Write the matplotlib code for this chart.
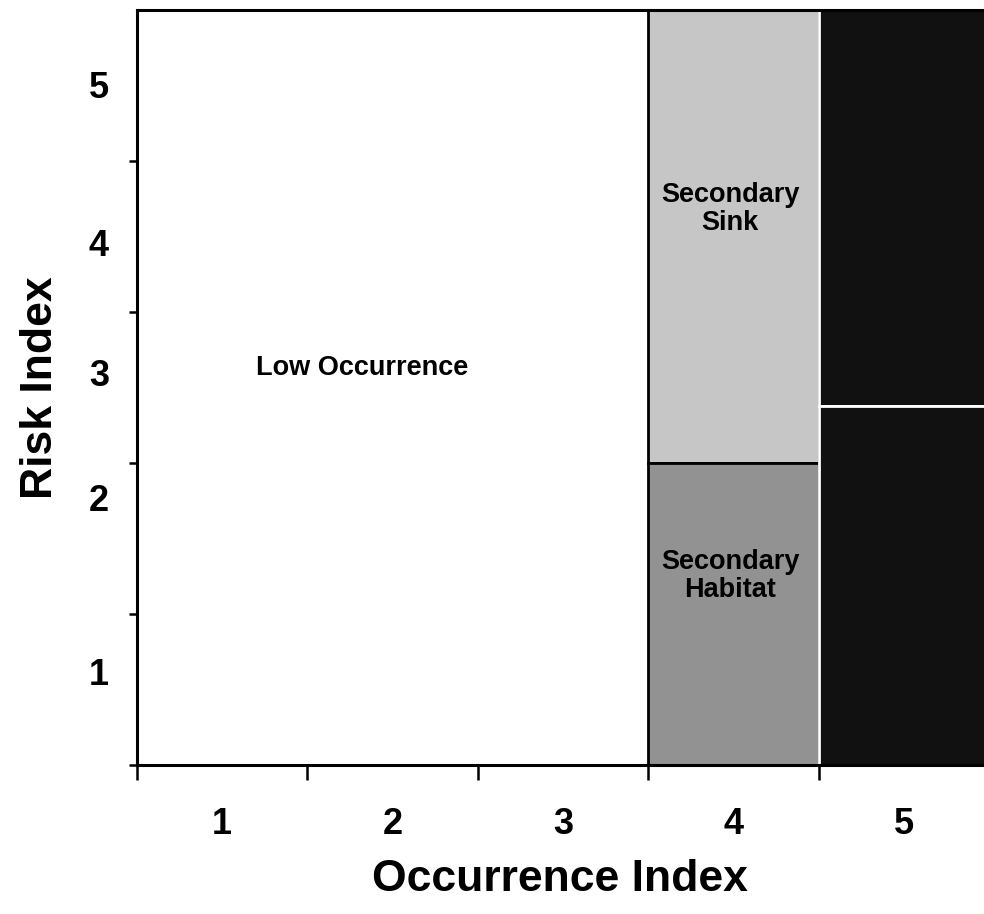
import matplotlib.pyplot as plt
from matplotlib.patches import Rectangle

# Zones of the occurrence / risk grid
zone_names = ["Low Occurrence", "Secondary Sink", "Secondary Habitat", "Primary Sink", "Primary Habitat"]
zone_x0 = [0.5, 3.5, 3.5, 4.5, 4.5]
zone_x1 = [3.5, 4.5, 4.5, 5.5, 5.5]
zone_y0 = [0.5, 2.5, 0.5, 2.88, 0.5]
zone_y1 = [5.5, 5.5, 2.5, 5.5, 2.88]
zone_colors = ["white", "#c6c6c6", "#929292", "#111111", "#111111"]
zone_edges = ["none", "black", "black", "white", "white"]

labels = ["Low Occurrence", "Secondary\nSink", "Secondary\nHabitat"]
label_x = [1.82, 3.98, 3.98]
label_y = [3.13, 4.18, 1.75]

ticks = [1, 2, 3, 4, 5]
ytick_pos = [1.12, 2.27, 3.1, 3.96, 5.01]

plt.rcParams["font.family"] = ["Liberation Sans", "DejaVu Sans"]
plt.rcParams["font.weight"] = "bold"

fig = plt.figure(figsize=(9.84, 9.14), dpi=100)
ax = fig.add_axes([0.139, 0.163, 0.861, 0.826])

for x0, x1, y0, y1, c, e in zip(zone_x0, zone_x1, zone_y0, zone_y1, zone_colors, zone_edges):
    ax.add_patch(Rectangle((x0, y0), x1 - x0, y1 - y0, facecolor=c, edgecolor=e, linewidth=2))

for s, x, y in zip(labels, label_x, label_y):
    ax.text(x, y, s, ha="center", va="center", fontsize=19.5, fontweight="bold", linespacing=1.1)

ax.set_xlim(0.5, 5.47)
ax.set_ylim(0.5, 5.5)

# tick marks on the cell edges, labels in the cell centres
ax.set_xticks([0.5, 1.5, 2.5, 3.5, 4.5])
ax.set_xticklabels([])
ax.set_xticks(ticks, minor=True)
ax.set_xticklabels([str(t) for t in ticks], minor=True, fontsize=26, fontweight="bold")
ax.tick_params(axis="x", which="major", direction="out", length=11, width=1.8)
ax.tick_params(axis="x", which="minor", length=0, pad=30)

ax.set_yticks([0.5, 1.5, 2.5, 3.5, 4.5])
ax.set_yticklabels([])
ax.set_yticks(ytick_pos, minor=True)
ax.set_yticklabels([str(t) for t in ticks], minor=True, fontsize=26, fontweight="bold")
ax.tick_params(axis="y", which="major", direction="out", length=6, width=1.8)
ax.tick_params(axis="y", which="minor", length=0, pad=20)

ax.spines["right"].set_visible(False)
for side in ["left", "bottom", "top"]:
    ax.spines[side].set_linewidth(2.2)

ax.set_xlabel("Occurrence Index", fontsize=32, fontweight="bold")
ax.set_ylabel("Risk Index", fontsize=32, fontweight="bold")
ax.xaxis.set_label_coords(0.5, -0.125)
ax.yaxis.set_label_coords(-0.09, 0.5)

fig.savefig("out.png", dpi=100)
